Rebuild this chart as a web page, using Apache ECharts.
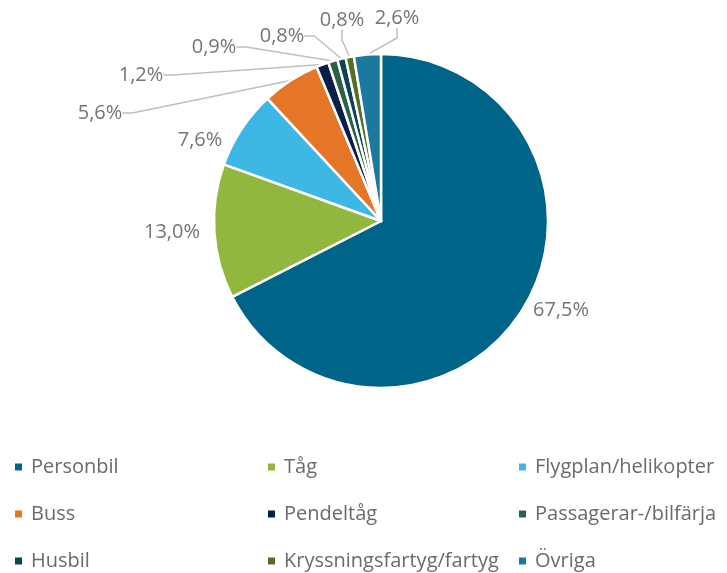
<!DOCTYPE html>
<html>
<head>
<meta charset="utf-8">
<script src="https://cdn.jsdelivr.net/npm/echarts@6/dist/echarts.min.js"></script>
<style>
  html, body { margin: 0; padding: 0; background: #fff; }
  #chart { width: 727px; height: 573px; }
</style>
</head>
<body>
<div id="chart"></div>
<script>
const categories = ['Personbil', 'Tåg', 'Flygplan/helikopter', 'Buss', 'Pendeltåg',
  'Passagerar-/bilfärja', 'Husbil', 'Kryssningsfartyg/fartyg', 'Övriga'];
const shares = [67.5, 13.0, 7.6, 5.6, 1.2, 0.9, 0.8, 0.8, 2.6];
const colors = ['#006489', '#92B73E', '#3DB8E4', '#E57527', '#0A1E4A',
  '#2A6244', '#0F4252', '#536F24', '#1B789E'];

// label anchor points (centre of text) for each slice
const labelPos = [
  [561, 310], [172, 232], [200, 140], [100, 113], [141, 75],
  [214, 47], [282, 36], [342, 20], [397, 18]
];
const hasLine = [false, false, false, true, true, true, true, true, true];

const FONT = '"Open Sans", sans-serif';

const chart = echarts.init(document.getElementById('chart'));

const legendCols = [
  [categories[0], categories[3], categories[6]],
  [categories[1], categories[4], categories[7]],
  [categories[2], categories[5], categories[8]]
];
const legendLeft = [13, 266, 517];

chart.setOption({
  animation: false,
  color: colors,
  legend: legendCols.map((col, i) => ({
    data: col,
    orient: 'vertical',
    left: legendLeft[i],
    top: 457,
    height: 150,
    padding: 0,
    itemWidth: 9,
    itemHeight: 9,
    itemGap: 27,
    icon: 'rect',
    selectedMode: false,
    textStyle: { color: '#6A6A6A', fontSize: 20, fontFamily: FONT, lineHeight: 20, padding: [0, 0, 0, 3] }
  })),
  series: [{
    type: 'pie',
    center: [381, 221],
    radius: 167,
    startAngle: 90,
    clockwise: true,
    itemStyle: { borderColor: '#fff', borderWidth: 2.5 },
    label: {
      show: true,
      formatter: (p) => p.value.toFixed(1).replace('.', ',') + '%',
      color: '#757575',
      fontSize: 20,
      fontFamily: FONT
    },
    labelLine: { show: true, length: 10, length2: 10, lineStyle: { color: '#BFBFBF', width: 1.5 } },
    labelLayout: (params) => {
      const [x, y] = labelPos[params.dataIndex];
      return { x: x, y: y, align: 'center', verticalAlign: 'middle' };
    },
    data: categories.map((name, i) => ({
      name: name,
      value: shares[i],
      labelLine: { show: hasLine[i] }
    }))
  }]
});
</script>
</body>
</html>
